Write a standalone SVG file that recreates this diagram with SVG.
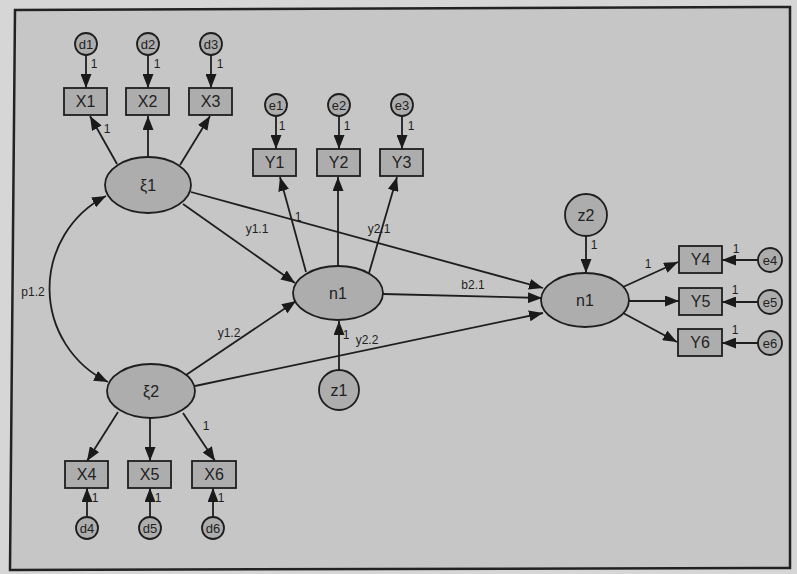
<svg xmlns="http://www.w3.org/2000/svg" width="797" height="574" viewBox="0 0 797 574">
<defs>
<marker id="ah" markerUnits="userSpaceOnUse" markerWidth="14" markerHeight="11" refX="14" refY="5.5" orient="auto-start-reverse" viewBox="0 0 14 11">
<path d="M0,0 L14,5.5 L0,11 z" fill="#1a1a1a"/>
</marker>
</defs>
<style>
.bg{fill:#d6d6d6}
.frame{fill:#c6c6c6;stroke:#222;stroke-width:2.5}
.n{fill:#adadad;stroke:#1e1e1e;stroke-width:1.8}
.t{font-family:"Liberation Sans",Arial,sans-serif;font-size:16px;fill:#222;text-anchor:middle;dominant-baseline:central}
.ts{font-family:"Liberation Sans",Arial,sans-serif;font-size:12px;fill:#222;text-anchor:middle;dominant-baseline:central}
.e{stroke:#1e1e1e;stroke-width:1.8;fill:none;marker-end:url(#ah)}
</style>
<rect class="bg" x="0" y="0" width="797" height="574"/>
<polygon class="frame" points="15,10 790,7 790,568 10,570"/>

<g id="connectors">
<line class="e" x1="86" y1="55" x2="86" y2="88"/>
<line class="e" x1="148" y1="55" x2="148" y2="88"/>
<line class="e" x1="211" y1="55" x2="211" y2="88"/>
<line class="e" x1="117" y1="164" x2="90" y2="116"/>
<line class="e" x1="148" y1="157" x2="148" y2="116"/>
<line class="e" x1="180" y1="165" x2="210" y2="116"/>
<line class="e" x1="276" y1="116" x2="276" y2="149"/>
<line class="e" x1="339" y1="116" x2="339" y2="149"/>
<line class="e" x1="402" y1="116" x2="402" y2="149"/>
<line class="e" x1="306" y1="272" x2="280" y2="177"/>
<line class="e" x1="338" y1="266" x2="338" y2="177"/>
<line class="e" x1="369" y1="273" x2="397" y2="177"/>
<line class="e" x1="183" y1="204" x2="295" y2="283"/>
<line class="e" x1="191" y1="192" x2="543" y2="288"/>
<line class="e" x1="186" y1="375" x2="296" y2="301"/>
<line class="e" x1="195" y1="386" x2="543" y2="313"/>
<line class="e" x1="383" y1="294" x2="542" y2="298"/>
<line class="e" x1="339" y1="370" x2="339" y2="321"/>
<line class="e" x1="586" y1="236" x2="586" y2="273"/>
<line class="e" x1="623" y1="287" x2="678" y2="262"/>
<line class="e" x1="629" y1="301" x2="679" y2="301"/>
<line class="e" x1="623" y1="313" x2="677" y2="342"/>
<line class="e" x1="758" y1="260" x2="722" y2="260"/>
<line class="e" x1="758" y1="302" x2="722" y2="302"/>
<line class="e" x1="758" y1="343" x2="722" y2="343"/>
<line class="e" x1="118" y1="412" x2="87" y2="461"/>
<line class="e" x1="150" y1="418" x2="150" y2="461"/>
<line class="e" x1="183" y1="413" x2="215" y2="461"/>
<line class="e" x1="87" y1="517" x2="87" y2="488"/>
<line class="e" x1="150" y1="517" x2="150" y2="488"/>
<line class="e" x1="213" y1="517" x2="213" y2="488"/>
<path class="e" style="marker-start:url(#ah)" d="M106,196 A104,104 0 0 0 108,382"/>
<text class="ts" x="94" y="64">1</text>
<text class="ts" x="157" y="64">1</text>
<text class="ts" x="220" y="64">1</text>
<text class="ts" x="107" y="129">1</text>
<text class="ts" x="282" y="126">1</text>
<text class="ts" x="347" y="126">1</text>
<text class="ts" x="411" y="126">1</text>
<text class="ts" x="298" y="217">1</text>
<text class="ts" x="257" y="229">y1.1</text>
<text class="ts" x="379" y="229">y2.1</text>
<text class="ts" x="33" y="292">p1.2</text>
<text class="ts" x="473" y="285">b2.1</text>
<text class="ts" x="229" y="333">y1.2</text>
<text class="ts" x="367" y="340">y2.2</text>
<text class="ts" x="346" y="335">1</text>
<text class="ts" x="206" y="426">1</text>
<text class="ts" x="594" y="245">1</text>
<text class="ts" x="648" y="264">1</text>
<text class="ts" x="736" y="249">1</text>
<text class="ts" x="735" y="290">1</text>
<text class="ts" x="735" y="330">1</text>
<text class="ts" x="95" y="498">1</text>
<text class="ts" x="158" y="498">1</text>
<text class="ts" x="221" y="498">1</text>
</g>

<g id="d1"><circle class="n" cx="86" cy="44" r="11"/><text class="ts" style="font-size:13px" x="86" y="44">d1</text></g>
<g id="d2"><circle class="n" cx="148" cy="44" r="11"/><text class="ts" style="font-size:13px" x="148" y="44">d2</text></g>
<g id="d3"><circle class="n" cx="211" cy="44" r="11"/><text class="ts" style="font-size:13px" x="211" y="44">d3</text></g>
<g id="X1"><rect class="n" x="64" y="88" width="43" height="27"/><text class="t" x="85.5" y="101.5">X1</text></g>
<g id="X2"><rect class="n" x="126" y="88" width="43" height="27"/><text class="t" x="147.5" y="101.5">X2</text></g>
<g id="X3"><rect class="n" x="189" y="88" width="43" height="27"/><text class="t" x="210.5" y="101.5">X3</text></g>
<g id="xi1"><ellipse class="n" cx="148" cy="185" rx="43" ry="28"/><text class="t" x="148" y="185">ξ1</text></g>
<g id="e1"><circle class="n" cx="276" cy="105" r="11"/><text class="ts" style="font-size:13px" x="276" y="105">e1</text></g>
<g id="e2"><circle class="n" cx="339" cy="105" r="11"/><text class="ts" style="font-size:13px" x="339" y="105">e2</text></g>
<g id="e3"><circle class="n" cx="402" cy="105" r="11"/><text class="ts" style="font-size:13px" x="402" y="105">e3</text></g>
<g id="Y1"><rect class="n" x="253" y="149" width="43" height="27"/><text class="t" x="274.5" y="162.5">Y1</text></g>
<g id="Y2"><rect class="n" x="317" y="149" width="43" height="27"/><text class="t" x="338.5" y="162.5">Y2</text></g>
<g id="Y3"><rect class="n" x="380" y="149" width="43" height="27"/><text class="t" x="401.5" y="162.5">Y3</text></g>
<g id="n1a"><ellipse class="n" cx="338" cy="293" rx="45" ry="27"/><text class="t" x="338" y="293">n1</text></g>
<g id="z1"><circle class="n" cx="339" cy="390" r="20"/><text class="t" x="339" y="390">z1</text></g>
<g id="xi2"><ellipse class="n" cx="151" cy="391" rx="44" ry="27"/><text class="t" x="151" y="391">ξ2</text></g>
<g id="X4"><rect class="n" x="65" y="461" width="43" height="27"/><text class="t" x="86.5" y="474.5">X4</text></g>
<g id="X5"><rect class="n" x="128" y="461" width="43" height="27"/><text class="t" x="149.5" y="474.5">X5</text></g>
<g id="X6"><rect class="n" x="192" y="461" width="44" height="27"/><text class="t" x="214" y="474.5">X6</text></g>
<g id="d4"><circle class="n" cx="87" cy="528" r="11"/><text class="ts" style="font-size:13px" x="87" y="528">d4</text></g>
<g id="d5"><circle class="n" cx="150" cy="528" r="11"/><text class="ts" style="font-size:13px" x="150" y="528">d5</text></g>
<g id="d6"><circle class="n" cx="213" cy="528" r="11"/><text class="ts" style="font-size:13px" x="213" y="528">d6</text></g>
<g id="n1b"><ellipse class="n" cx="585" cy="300" rx="44" ry="27"/><text class="t" x="585" y="300">n1</text></g>
<g id="z2"><circle class="n" cx="586" cy="215" r="21"/><text class="t" x="586" y="215">z2</text></g>
<g id="Y4"><rect class="n" x="679" y="246" width="43" height="27"/><text class="t" x="700.5" y="259.5">Y4</text></g>
<g id="Y5"><rect class="n" x="679" y="288" width="43" height="27"/><text class="t" x="700.5" y="301.5">Y5</text></g>
<g id="Y6"><rect class="n" x="678" y="329" width="44" height="27"/><text class="t" x="700" y="342.5">Y6</text></g>
<g id="e4"><circle class="n" cx="770" cy="260" r="12"/><text class="ts" style="font-size:13px" x="770" y="260">e4</text></g>
<g id="e5"><circle class="n" cx="770" cy="302" r="12"/><text class="ts" style="font-size:13px" x="770" y="302">e5</text></g>
<g id="e6"><circle class="n" cx="770" cy="343" r="12"/><text class="ts" style="font-size:13px" x="770" y="343">e6</text></g>
</svg>
